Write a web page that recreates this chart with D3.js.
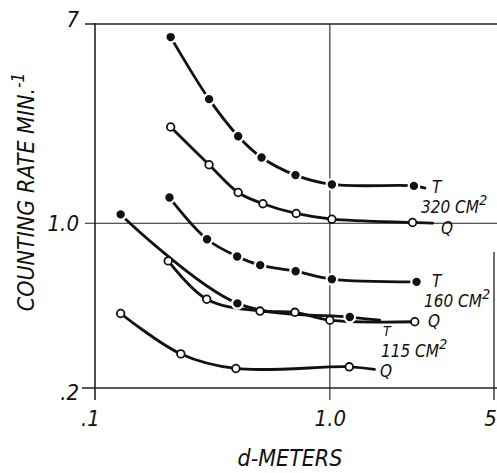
<!DOCTYPE html>
<html>
<head>
<meta charset="utf-8">
<script src="https://cdn.jsdelivr.net/npm/d3@7"></script>
<style>
  html, body { margin: 0; padding: 0; background: #fff; }
  svg { display: block; }
  text { font-family: "DejaVu Sans Condensed", "DejaVu Sans", sans-serif; font-style: oblique; fill: #111; }
</style>
</head>
<body>
<svg id="chart" width="497" height="473"></svg>
<script>
// ---- data (d in meters, counting rate per minute) ----
const xTicks = [0.1, 1, 5];
const xTickLabels = [".1", "1.0", "5"];
const yTicks = [0.2, 1, 7];
const yTickLabels = [".2", "1.0", "7"];

const dT320 = [0.21, 0.306, 0.407, 0.512, 0.714, 1.02, 2.28];
const rT320 = [6.16, 3.36, 2.34, 1.90, 1.60, 1.46, 1.44];
const endT320 = [2.54, 1.41];

const dQ320 = [0.21, 0.306, 0.407, 0.519, 0.719, 1.02, 2.25];
const rQ320 = [2.56, 1.77, 1.35, 1.21, 1.10, 1.04, 1.007];
const endQ320 = [2.74, 1.0];

const dT160 = [0.2075, 0.300, 0.403, 0.505, 0.715, 1.02, 2.34];
const rT160 = [1.285, 0.855, 0.723, 0.664, 0.626, 0.579, 0.564];

const dQ160 = [0.205, 0.299, 0.504, 0.710, 1.0, 2.30];
const rQ160 = [0.692, 0.476, 0.424, 0.419, 0.388, 0.382];

const dT115 = [0.1286, 0.404, 1.216];
const rT115 = [1.09, 0.457, 0.400];
const endT115 = [1.63, 0.388];

const dQ115 = [0.1286, 0.232, 0.398, 1.21];
const rQ115 = [0.414, 0.279, 0.242, 0.246];
const endQ115 = [1.55, 0.240];

// ---- build series ----
function pts(ds, rs) { return ds.map((d, i) => ({ d: d, r: rs[i] })); }
const series = [
  { name: "T320", filled: true,  pts: pts(dT320, rT320), end: endT320 },
  { name: "Q320", filled: false, pts: pts(dQ320, rQ320), end: endQ320 },
  { name: "T160", filled: true,  pts: pts(dT160, rT160), end: null },
  { name: "Q160", filled: false, pts: pts(dQ160, rQ160), end: null },
  { name: "T115", filled: true,  pts: pts(dT115, rT115), end: endT115 },
  { name: "Q115", filled: false, pts: pts(dQ115, rQ115), end: endQ115 }
];

const svg = d3.select("#chart");
const x = d3.scaleLog().domain([0.1, 5]).range([95, 494]);
const y = d3.scaleLog().domain([0.2, 7]).range([388, 24]);

const frame = svg.append("g").attr("stroke", "#222").attr("fill", "none");
frame.append("line").attr("x1", x(0.1)).attr("x2", x(0.1)).attr("y1", y(7) - 1).attr("y2", y(0.2) + 12).attr("stroke-width", 1.6);
frame.append("line").attr("x1", x(0.1) - 13).attr("x2", 497).attr("y1", y(0.2)).attr("y2", y(0.2)).attr("stroke-width", 1.6);
frame.append("line").attr("x1", x(0.1) - 10).attr("x2", 497).attr("y1", y(7)).attr("y2", y(7)).attr("stroke-width", 1.4);
frame.append("line").attr("x1", x(0.1) - 10).attr("x2", 497).attr("y1", y(1)).attr("y2", y(1)).attr("stroke-width", 1.1);
frame.append("line").attr("x1", x(1)).attr("x2", x(1)).attr("y1", y(7)).attr("y2", y(0.2) + 12).attr("stroke-width", 1.1);
frame.append("line").attr("x1", x(5)).attr("x2", x(5)).attr("y1", 252).attr("y2", y(0.2) + 12).attr("stroke-width", 1.3);

const fontCss = "'DejaVu Sans Condensed','DejaVu Sans',sans-serif";
const xAxis = d3.axisBottom(x).tickValues(xTicks).tickFormat((d, i) => xTickLabels[i]).tickSize(0).tickPadding(22);
const gx = svg.append("g").attr("transform", `translate(0,${y(0.2)})`).call(xAxis);
gx.select(".domain").remove();
gx.selectAll("text").attr("font-size", 22).attr("font-family", null).style("font-family", fontCss).style("font-style", "oblique").attr("fill", "#111");
gx.selectAll(".tick").filter(d => d === 5).select("text").attr("dx", -4);
gx.selectAll(".tick").filter(d => d === 0.1).select("text").attr("dx", -5);

const yAxis = d3.axisLeft(y).tickValues(yTicks).tickFormat((d, i) => yTickLabels[i]).tickSize(0).tickPadding(16);
const gy = svg.append("g").attr("transform", `translate(${x(0.1)},0)`).call(yAxis);
gy.select(".domain").remove();
gy.selectAll("text").attr("font-size", 22).attr("font-family", null).style("font-family", fontCss).style("font-style", "oblique").attr("fill", "#111");
gy.selectAll(".tick").filter(d => d === 0.2).select("text").attr("dy", "0.5em");
gy.selectAll(".tick").filter(d => d === 7).select("text").attr("dy", "0.1em");

// ---- curves ----
const line = d3.line().x(p => x(p.d)).y(p => y(p.r)).curve(d3.curveCatmullRom.alpha(0.5));
const g = svg.append("g");
series.forEach(s => {
  const lp = s.pts.slice();
  if (s.end) lp.push({ d: s.end[0], r: s.end[1] });
  g.append("path").attr("d", line(lp)).attr("fill", "none").attr("stroke", "#111").attr("stroke-width", 2.8).attr("stroke-linecap", "round");
});
series.forEach(s => {
  g.selectAll(null).data(s.pts).enter().append("circle")
    .attr("cx", p => x(p.d)).attr("cy", p => y(p.r))
    .attr("r", s.filled ? 5.3 : 3.8)
    .attr("fill", s.filled ? "#111" : "#fff")
    .attr("stroke", s.filled ? "#fff" : "#111")
    .attr("stroke-width", s.filled ? 2.2 : 1.8);
});

// ---- labels ----
const lab = svg.append("g");
function label(xp, yp, txt, size, sup) {
  const t = lab.append("text").attr("x", xp).attr("y", yp).attr("font-size", size).text(txt);
  if (sup) t.append("tspan").attr("dy", -size * 0.45).attr("font-size", size * 0.85).text(sup);
  return t;
}
label(432, 193, "T", 17);
label(421, 213, "320 CM", 17, "2");
label(441, 234, "Q", 17);
label(432, 287, "T", 17);
label(424, 307, "160 CM", 17, "2");
label(428, 327, "Q", 17);
label(383, 336, "T", 14);
label(381, 357, "115 CM", 17, "2");
label(380, 377, "Q", 17);

// axis titles
svg.append("text").attr("x", 290).attr("y", 466).attr("text-anchor", "middle").attr("font-size", 23).text("d-METERS");
const yt = svg.append("text").attr("transform", "translate(34,192) rotate(-90)").attr("text-anchor", "middle").attr("font-size", 23).text("COUNTING RATE MIN.");
yt.append("tspan").attr("dy", -10).attr("font-size", 17).text("-1");
</script>
</body>
</html>
